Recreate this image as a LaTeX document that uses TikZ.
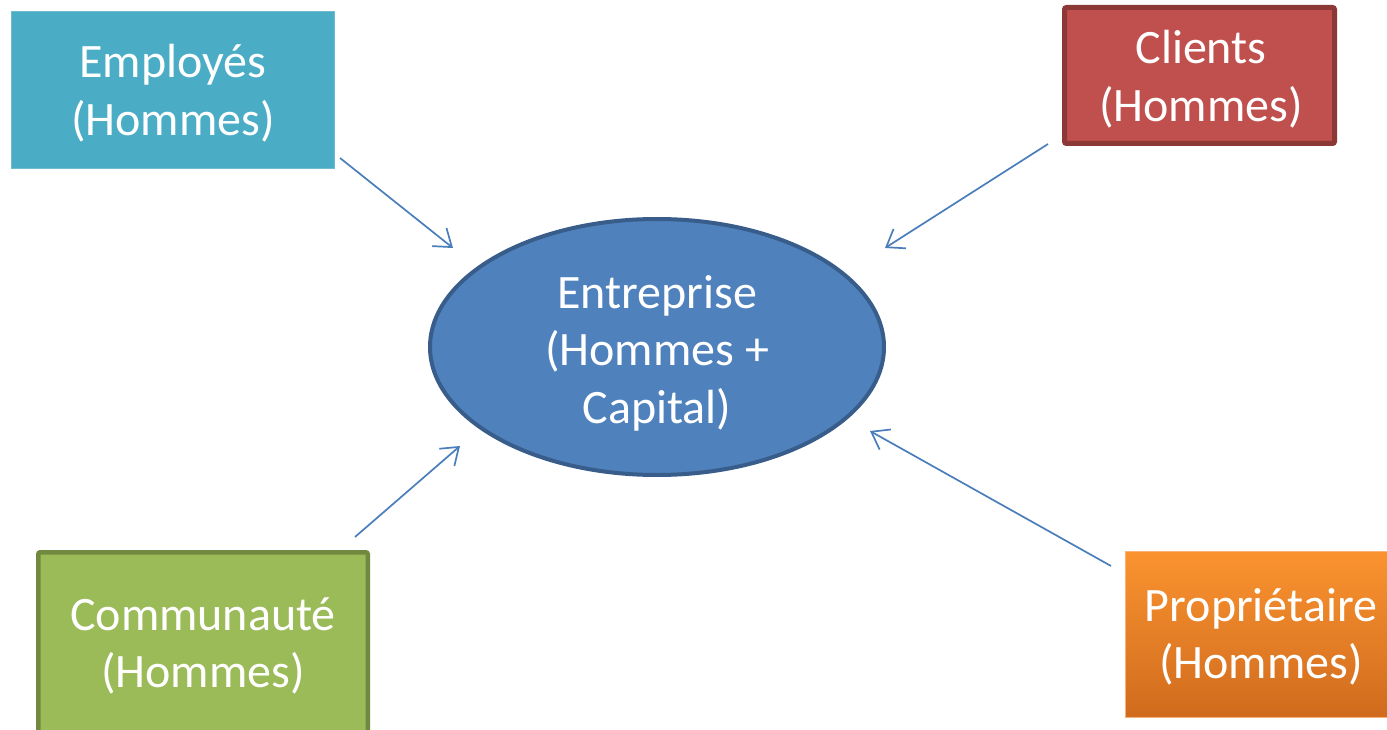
\documentclass[tikz,border=0pt]{standalone}
\usepackage{fontspec}
\setmainfont{Carlito}
\usetikzlibrary{arrows.meta,shapes.geometric}
\definecolor{empfill}{HTML}{4BACC6}
\definecolor{empdraw}{HTML}{6FBCD1}
\definecolor{clifill}{HTML}{C0504D}
\definecolor{clidraw}{HTML}{8C3836}
\definecolor{comfill}{HTML}{9BBB59}
\definecolor{comdraw}{HTML}{71893F}
\definecolor{protop}{HTML}{FA932F}
\definecolor{probot}{HTML}{D06B1E}
\definecolor{prodraw}{HTML}{F9B27A}
\definecolor{entfill}{HTML}{4F81BD}
\definecolor{entdraw}{HTML}{385D8A}
\definecolor{arrowblue}{HTML}{4A7EBB}
\begin{document}
\begin{tikzpicture}[x=1pt,y=-1pt,
  lbl/.style={text=white,align=center,font=\fontsize{48}{57.5}\selectfont,inner sep=0pt},
  boxnode/.style={rectangle},
  link/.style={draw=arrowblue,line width=1.7pt,-{Straight Barb[length=16pt,width=23pt,line width=1.7pt]}}]
\useasboundingbox (0,0) rectangle (1387,730);
\clip (0,0) rectangle (1387,730);
\fill[white] (0,0) rectangle (1387,730);

\node[boxnode,fill=empfill,draw=empdraw,line width=1pt,minimum width=323pt,minimum height=157pt] (emp) at (173,90) {};
\node[lbl] (emptxt) at (173,93) {Employés\\(Hommes)};
\node[boxnode,fill=clifill,draw=clidraw,line width=5pt,rounded corners=2pt,minimum width=270pt,minimum height=136pt] (cli) at (1199.5,75.5) {};
\node[lbl] (clitxt) at (1201,79) {Clients\\(Hommes)};
\node[boxnode,fill=comfill,draw=comdraw,line width=4.5pt,rounded corners=2pt,minimum width=329.5pt,minimum height=191.5pt] (com) at (203,648) {};
\node[lbl] (comtxt) at (203,646) {Communauté\\(Hommes)};
\node[boxnode,top color=protop,bottom color=probot,draw=prodraw,line width=1pt,minimum width=271pt,minimum height=166pt] (pro) at (1261,634.5) {};
\node[lbl] (protxt) at (1261,637) {Propriétaire\\(Hommes)};
\node[ellipse,fill=entfill,draw=entdraw,line width=4pt,minimum width=454pt,minimum height=256pt] (ent) at (657,347) {};
\node[lbl] (enttxt) at (657,353) {Entreprise\\(Hommes +\\Capital)};

\coordinate (empS) at (340,158);
\coordinate (empT) at (453,248);
\coordinate (cliS) at (1048,144);
\coordinate (cliT) at (885,248);
\coordinate (comS) at (355,537);
\coordinate (comT) at (460,446);
\coordinate (proS) at (1111,566);
\coordinate (proT) at (870,431);

\draw[link] (empS) -- (empT);
\draw[link] (cliS) -- (cliT);
\draw[link] (comS) -- (comT);
\draw[link] (proS) -- (proT);
\end{tikzpicture}
\end{document}
